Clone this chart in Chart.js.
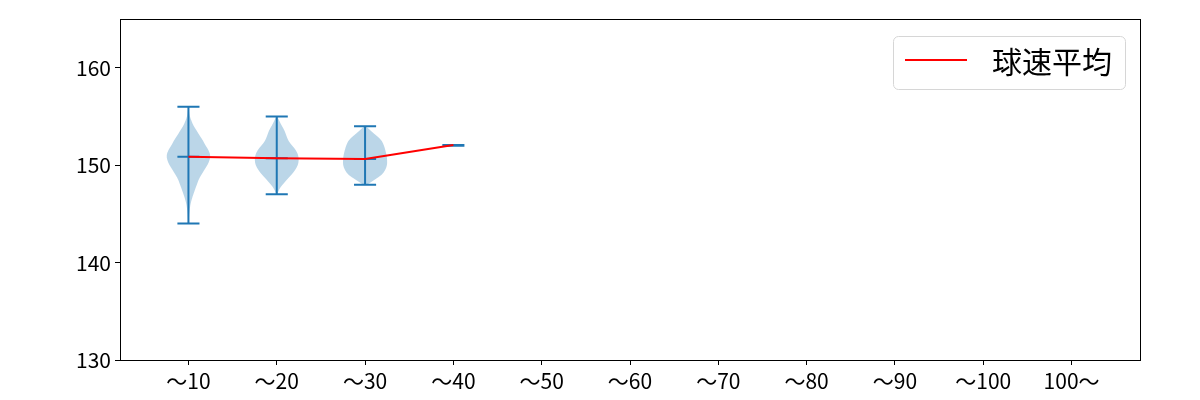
<!DOCTYPE html>
<html>
<head>
<meta charset="utf-8">
<script src="https://cdn.jsdelivr.net/npm/chart.js@4.4.0/dist/chart.umd.min.js"></script>
<style>
  html, body { margin: 0; padding: 0; background: #fff; }
  #wrap { width: 1200px; height: 400px; }
</style>
</head>
<body>
<div id="wrap"><canvas id="chart" width="1200" height="400"></canvas></div>
<script>
/* ── DATA ── */
const categories = ['～10','～20','～30','～40','～50','～60','～70','～80','～90','～100','100～'];
const positions  = [1,2,3,4,5,6,7,8,9,10,11];
const speedMin   = [144, 147, 148, 152, null, null, null, null, null, null, null];
const speedMax   = [156, 155, 154, 152, null, null, null, null, null, null, null];
const speedMean  = [150.86, 150.72, 150.62, 152.06, null, null, null, null, null, null, null];
const yTicks     = [130, 140, 150, 160];
const meanLabel  = '球速平均';

// violin outlines: speed value -> half width (in category units)
const kdeVals10  = [144,145,146,146.5,147,147.5,148,148.5,149,149.5,150,150.5,151,151.5,152,152.5,153,153.5,154,154.5,155,155.5,156];
const kdeWidth10 = [0.003,0.008,0.022,0.038,0.055,0.075,0.095,0.115,0.145,0.18,0.215,0.24,0.25,0.23,0.195,0.165,0.13,0.095,0.06,0.035,0.015,0.006,0.003];
const kdeVals20  = [147,147.5,148,148.5,149,149.5,150,150.5,151,151.5,152,152.5,153,153.5,154,154.5,155];
const kdeWidth20 = [0.005,0.025,0.065,0.115,0.165,0.21,0.24,0.25,0.245,0.22,0.175,0.13,0.11,0.09,0.06,0.03,0.005];
const kdeVals30  = [148,148.5,149,149.5,150,150.5,151,151.5,152,152.5,153,153.5,154];
const kdeWidth30 = [0.02,0.11,0.19,0.23,0.25,0.25,0.245,0.23,0.215,0.19,0.135,0.065,0.01];

const violins = [
  { pos: 1, vals: kdeVals10, widths: kdeWidth10 },
  { pos: 2, vals: kdeVals20, widths: kdeWidth20 },
  { pos: 3, vals: kdeVals30, widths: kdeWidth30 }
];

/* ── STYLE ── */
const BLUE = '#1f77b4';
const CAP = 0.125;
const FONT = '"Noto Sans CJK JP", "Noto Sans", sans-serif';

/* ── BUILD SEGMENTS ── */
const whiskerPts = [];
const capPts = [];
positions.forEach((p, i) => {
  if (speedMin[i] == null) return;
  whiskerPts.push({x: p, y: speedMin[i]}, {x: p, y: speedMax[i]}, {x: p, y: null});
  [speedMin[i], speedMax[i], speedMean[i]].forEach(v => {
    capPts.push({x: p - CAP, y: v}, {x: p + CAP, y: v}, {x: p, y: null});
  });
});
const meanPts = positions.map((p, i) => ({x: p, y: speedMean[i]})).filter(d => d.y != null);

/* ── PLUGINS ── */
const violinPlugin = {
  id: 'violins',
  beforeDatasetsDraw(chart) {
    const {ctx, chartArea: a, scales: {x, y}} = chart;
    ctx.save();
    ctx.beginPath(); ctx.rect(a.left, a.top, a.right - a.left, a.bottom - a.top); ctx.clip();
    ctx.fillStyle = 'rgba(31,119,180,0.3)';
    violins.forEach(v => {
      const pts = [];
      v.vals.forEach((s, i) => pts.push([x.getPixelForValue(v.pos - v.widths[i]), y.getPixelForValue(s)]));
      for (let i = v.vals.length - 1; i >= 0; i--)
        pts.push([x.getPixelForValue(v.pos + v.widths[i]), y.getPixelForValue(v.vals[i])]);
      ctx.beginPath();
      ctx.moveTo(pts[0][0], pts[0][1]);
      for (let i = 1; i < pts.length - 1; i++) {
        const mx = (pts[i][0] + pts[i+1][0]) / 2, my = (pts[i][1] + pts[i+1][1]) / 2;
        ctx.quadraticCurveTo(pts[i][0], pts[i][1], mx, my);
      }
      ctx.lineTo(pts[pts.length-1][0], pts[pts.length-1][1]);
      ctx.closePath();
      ctx.fill();
    });
    ctx.restore();
  }
};

const framePlugin = {
  id: 'frame',
  afterDraw(chart) {
    const {ctx, chartArea: a} = chart;
    ctx.save();
    ctx.strokeStyle = '#000'; ctx.lineWidth = 1;
    ctx.strokeRect(Math.round(a.left) + 0.5, Math.round(a.top) + 0.5, Math.round(a.right - a.left), Math.round(a.bottom - a.top));
    // legend
    const bx = a.right - 247, by = a.top + 17, bw = 232, bh = 53, r = 5;
    ctx.beginPath();
    ctx.roundRect(bx + 0.5, by + 0.5, bw, bh, r);
    ctx.fillStyle = 'rgba(255,255,255,0.8)'; ctx.fill();
    ctx.strokeStyle = '#d6d6d6'; ctx.stroke();
    ctx.beginPath();
    ctx.moveTo(bx + 12, by + 24); ctx.lineTo(bx + 74, by + 24);
    ctx.strokeStyle = 'red'; ctx.lineWidth = 2; ctx.stroke();
    ctx.fillStyle = '#000';
    ctx.font = '30px ' + FONT;
    ctx.textBaseline = 'middle';
    ctx.fillText(chart.data.datasets[0].label, bx + 99, by + 26);
    ctx.restore();
  }
};

/* ── CHART ── */
new Chart(document.getElementById('chart'), {
  type: 'line',
  data: {
    datasets: [
      { label: meanLabel, data: meanPts, borderColor: 'red', borderWidth: 2, pointRadius: 0, order: 0 },
      { label: 'whiskers', data: whiskerPts, borderColor: BLUE, borderWidth: 2, pointRadius: 0, spanGaps: false, order: 1 },
      { label: 'caps', data: capPts, borderColor: BLUE, borderWidth: 2, pointRadius: 0, spanGaps: false, order: 1 }
    ]
  },
  options: {
    responsive: false,
    devicePixelRatio: 1,
    animation: false,
    layout: { padding: { left: 0, top: 19, right: 60, bottom: 0 } },
    plugins: { legend: { display: false }, tooltip: { enabled: false } },
    scales: {
      x: {
        type: 'linear', min: 0.225, max: 11.775,
        afterBuildTicks: s => { s.ticks = positions.map(v => ({ value: v })); },
        afterFit: s => { s.height = 40; },
        grid: { drawOnChartArea: false, drawTicks: true, tickLength: 5, color: '#000' },
        border: { color: '#000', width: 1 },
        ticks: { color: '#000', font: { family: FONT, size: 21 }, padding: 3, maxRotation: 0,
                 callback: v => categories[positions.indexOf(v)] }
      },
      y: {
        min: 130, max: 165,
        afterBuildTicks: s => { s.ticks = yTicks.map(v => ({ value: v })); },
        afterFit: s => { s.width = 120; },
        grid: { drawOnChartArea: false, drawTicks: true, tickLength: 5, color: '#000' },
        border: { color: '#000', width: 1 },
        ticks: { color: '#000', font: { family: FONT, size: 21 }, padding: 4 }
      }
    }
  },
  plugins: [violinPlugin, framePlugin]
});
</script>
</body>
</html>
